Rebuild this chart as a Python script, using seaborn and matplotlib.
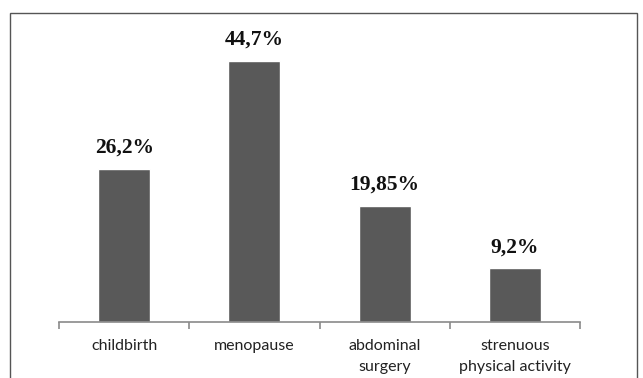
import matplotlib
matplotlib.use("Agg")
import matplotlib.pyplot as plt
import matplotlib.patches as mpatches
from matplotlib.ticker import FixedLocator
import pandas as pd
import seaborn as sns

# Reported causes and their shares (%)
categories = ["childbirth", "menopause", "abdominal\nsurgery", "strenuous\nphysical activity"]
shares = [26.2, 44.7, 19.85, 9.2]

df = pd.DataFrame({"cause": categories, "share": shares})

sns.set_theme(style="white")
plt.rcParams["font.family"] = ["Lato", "DejaVu Sans"]

fig = plt.figure(figsize=(6.43, 3.78), dpi=100)
ax = fig.add_axes([0.0918, 0.148, 0.9020 - 0.0918, 0.96 - 0.148])

sns.barplot(data=df, x="cause", y="share", color="#595959", width=0.4,
            saturation=1, ax=ax)

ax.set_xlim(-0.5, len(categories) - 0.5)
ax.set_ylim(0, 52.56)

# value labels in bold serif with decimal comma
labels = [f"{v:g}".replace(".", ",") + "%" for v in shares]
ax.bar_label(ax.containers[0], labels=labels, padding=8,
             fontsize=15.5, fontweight="bold", family="Liberation Serif",
             color="#111111")

for s in ["top", "right", "left"]:
    ax.spines[s].set_visible(False)
ax.spines["bottom"].set_color("#8a8a8a")
ax.spines["bottom"].set_linewidth(1.2)

ax.set_yticks([])
ax.set_xlabel("")
ax.set_ylabel("")
ax.tick_params(axis="x", which="major", length=0, pad=12, labelsize=11.5,
               labelcolor="#222222")
ax.xaxis.set_minor_locator(FixedLocator([i - 0.5 for i in range(len(categories) + 1)]))
ax.tick_params(axis="x", which="minor", bottom=True, length=5, width=1.2,
               color="#8a8a8a", direction="out")
for t in ax.get_xticklabels():
    t.set_linespacing(1.65)

# outer frame around the chart area
frame = mpatches.Rectangle((10 / 643, -0.2), (637 - 10) / 643, 1.2 - 12.5 / 378,
                           transform=fig.transFigure, fill=False,
                           edgecolor="#555555", linewidth=1.0, clip_on=False)
fig.patches.append(frame)

fig.savefig("out.png", dpi=100)
